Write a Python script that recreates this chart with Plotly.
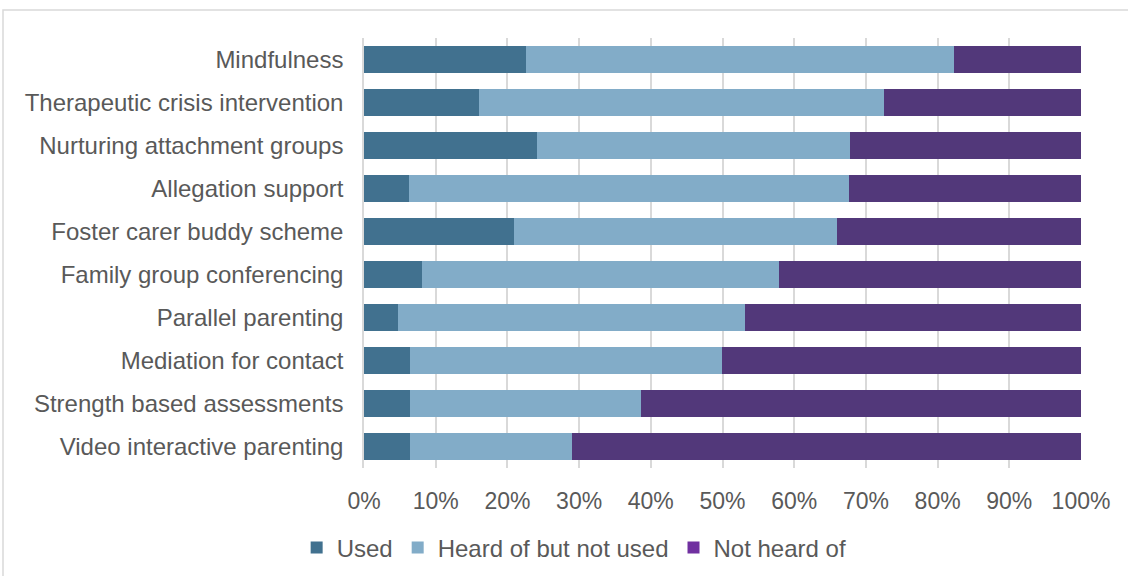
import plotly.graph_objects as go

categories = [
    "Mindfulness",
    "Therapeutic crisis intervention",
    "Nurturing attachment groups",
    "Allegation support",
    "Foster carer buddy scheme",
    "Family group conferencing",
    "Parallel parenting",
    "Mediation for contact",
    "Strength based assessments",
    "Video interactive parenting",
]
used = [22.6, 16.0, 24.1, 6.3, 20.9, 8.1, 4.8, 6.4, 6.4, 6.4]
heard_not_used = [59.7, 56.5, 43.7, 61.3, 45.1, 49.8, 48.4, 43.5, 32.3, 22.6]
not_heard = [17.7, 27.5, 32.2, 32.4, 34.0, 42.1, 46.8, 50.1, 61.3, 71.0]
tick_vals = [0, 10, 20, 30, 40, 50, 60, 70, 80, 90, 100]
tick_text = ["0%", "10%", "20%", "30%", "40%", "50%", "60%", "70%", "80%", "90%", "100%"]

series = [
    ("Used", used, "#41718f", "#41718f"),
    ("Heard of but not used", heard_not_used, "#82acc8", "#82acc8"),
    ("Not heard of", not_heard, "#52387a", "#7030a0"),
]

fig = go.Figure()
for name, vals, col, legcol in series:
    fig.add_trace(go.Bar(
        y=categories, x=vals, orientation="h", name=name,
        marker=dict(color=col, line=dict(width=0)), showlegend=False,
    ))
for name, vals, col, legcol in series:
    fig.add_trace(go.Bar(
        y=[None], x=[None], orientation="h", name=name,
        marker=dict(color=legcol, line=dict(width=0)), showlegend=True,
    ))

font_family = "Liberation Sans, Arial, sans-serif"
fig.update_layout(
    width=1128, height=576,
    barmode="stack", bargap=0.37,
    margin=dict(l=364, r=47, t=38, b=108),
    paper_bgcolor="white", plot_bgcolor="white",
    font=dict(family=font_family, size=24, color="#595959"),
    xaxis=dict(
        range=[0, 100], tickvals=tick_vals, ticktext=tick_text,
        showgrid=True, gridcolor="#d9d9d9", gridwidth=1.5,
        zeroline=False, showline=False,
        ticks="outside", ticklen=12, tickcolor="rgba(0,0,0,0)",
        tickfont=dict(size=23, color="#595959"),
        fixedrange=True,
    ),
    yaxis=dict(
        categoryorder="array", categoryarray=categories,
        autorange="reversed",
        showline=True, linecolor="#d9d9d9", linewidth=1.5,
        ticks="outside", ticklen=14, tickcolor="rgba(0,0,0,0)",
        tickfont=dict(size=24, color="#595959"),
        showgrid=False,
    ),
    legend=dict(
        orientation="h", xref="container", yref="container",
        x=0.509, xanchor="center", y=0.049, yanchor="middle",
        font=dict(size=24, color="#595959"),
        itemwidth=30, tracegroupgap=0, traceorder="normal",
    ),
    shapes=[dict(
        type="rect", xref="paper", yref="paper",
        x0=(3 - 364) / 717, x1=(1140 - 364) / 717,
        y0=(468 - 590) / 430, y1=(468 - 10) / 430,
        line=dict(color="#d9d9d9", width=1.5), fillcolor="rgba(0,0,0,0)",
        layer="below",
    )],
)

fig.write_html("out.html")
